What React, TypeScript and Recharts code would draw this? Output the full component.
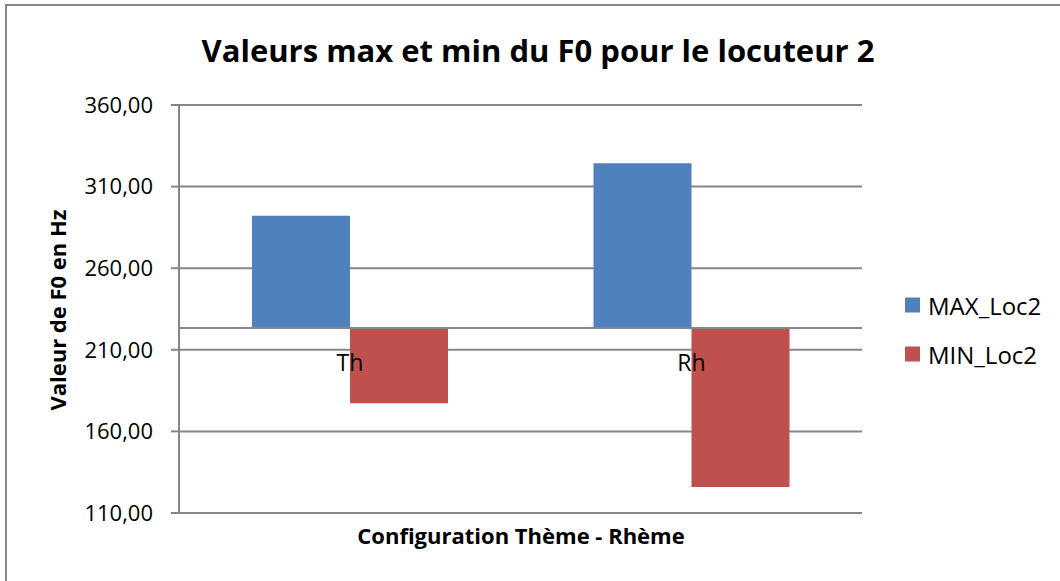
import React from "react";
import {
  BarChart,
  Bar,
  XAxis,
  YAxis,
  CartesianGrid,
  ReferenceLine,
  LabelList,
} from "recharts";

const categories = ["Th", "Rh"];
const maxLoc2 = [292.1, 324.3];
const minLoc2 = [177.3, 125.9];
// Excel horizontal axis crosses here, bars grow from it
const axisCross = 223.3;
const yTicks = [110, 160, 210, 260, 310, 360];

const BLUE = "#4F81BD";
const RED = "#C0504D";
const GRID = "#868686";
const FONT = "'Open Sans', 'Noto Sans', sans-serif";

const data = categories.map((c, i) => ({
  category: c,
  max: [axisCross, maxLoc2[i]],
  min: [minLoc2[i], axisCross],
}));

const fmt = (v: number) => v.toFixed(2).replace(".", ",");

const CategoryLabel = (props: any) => {
  const { x, y, value } = props;
  return (
    <text
      x={x}
      y={y + 43}
      textAnchor="middle"
      fontSize={23}
      fontFamily={FONT}
      fill="#000"
    >
      {value}
    </text>
  );
};

export default function App() {
  return (
    <div
      style={{
        position: "fixed",
        left: 0,
        top: 0,
        width: 1060,
        height: 581,
        background: "#fff",
        fontFamily: FONT,
        overflow: "hidden",
      }}
    >
      <div
        style={{
          position: "absolute",
          left: 0,
          width: 1076,
          top: 29,
          textAlign: "center",
          fontSize: 31,
          fontWeight: 700,
          color: "#000",
        }}
      >
        Valeurs max et min du F0 pour le locuteur 2
      </div>
      <div
        style={{
          position: "absolute",
          left: 57,
          top: 310,
          transform: "translate(-50%, -50%) rotate(-90deg)",
          whiteSpace: "nowrap",
          fontSize: 22,
          fontWeight: 700,
          color: "#000",
        }}
      >
        Valeur de F0 en Hz
      </div>
      <div
        style={{
          position: "absolute",
          left: 521,
          top: 535,
          transform: "translate(-50%, -50%)",
          whiteSpace: "nowrap",
          fontSize: 22,
          fontWeight: 700,
          color: "#000",
        }}
      >
        Configuration Thème - Rhème
      </div>
      {[
        { name: "MAX_Loc2", color: BLUE, y: 305 },
        { name: "MIN_Loc2", color: RED, y: 354 },
      ].map((it) => (
        <div
          key={it.name}
          style={{
            position: "absolute",
            left: 905,
            top: it.y,
            transform: "translateY(-50%)",
            display: "flex",
            alignItems: "center",
            fontSize: 24,
            color: "#000",
          }}
        >
          <span
            style={{
              display: "inline-block",
              width: 15,
              height: 15,
              background: it.color,
              marginRight: 8,
            }}
          />
          {it.name}
        </div>
      ))}
      <div style={{ position: "absolute", left: 0, top: 0 }}>
        <BarChart
          width={1060}
          height={581}
          data={data}
          margin={{ top: 105, right: 198, bottom: 38, left: 100 }}
          barCategoryGap={73}
          barGap={0}
        >
          <CartesianGrid vertical={false} stroke={GRID} strokeWidth={2} />
          <XAxis
            dataKey="category"
            axisLine={false}
            tickLine={false}
            tick={false}
            height={30}
          />
          <YAxis
            domain={[110, 360]}
            ticks={yTicks}
            interval={0}
            width={79}
            tickFormatter={fmt}
            axisLine={{ stroke: GRID, strokeWidth: 2 }}
            tickLine={{ stroke: GRID, strokeWidth: 2 }}
            tickSize={8}
            tickMargin={18}
            tick={{ fill: "#000", fontSize: 22, fontFamily: FONT }}
          />
          <ReferenceLine y={axisCross} stroke={GRID} strokeWidth={2} />
          <Bar dataKey="max" fill={BLUE} isAnimationActive={false} />
          <Bar dataKey="min" fill={RED} isAnimationActive={false}>
            <LabelList dataKey="category" content={<CategoryLabel />} />
          </Bar>
        </BarChart>
      </div>
      <div
        style={{
          position: "absolute",
          left: 5,
          top: 4,
          width: 1055,
          height: 577,
          boxSizing: "border-box",
          borderLeft: `2px solid ${GRID}`,
          borderTop: `2px solid ${GRID}`,
          pointerEvents: "none",
          zIndex: 5,
        }}
      />
    </div>
  );
}
